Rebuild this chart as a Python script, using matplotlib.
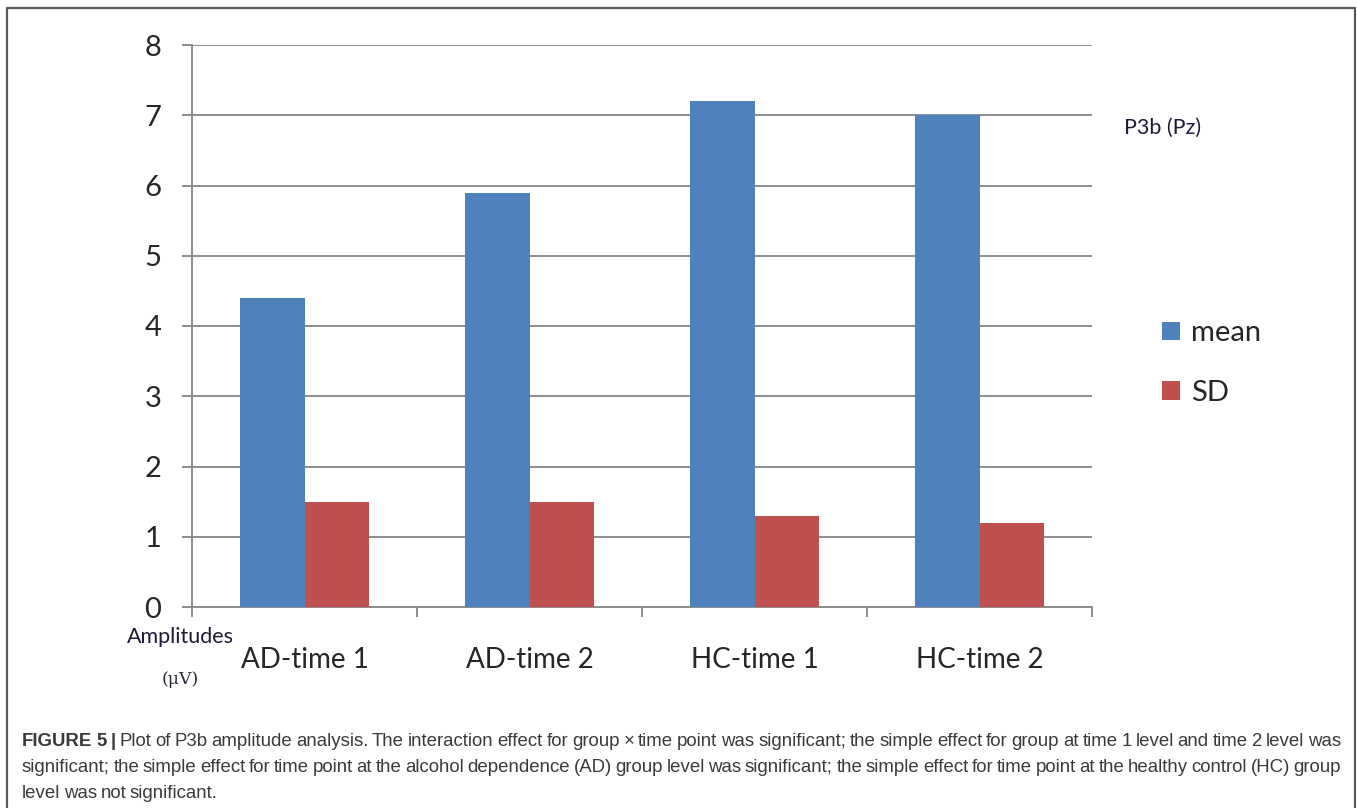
import numpy as np
import matplotlib as mpl
mpl.use('Agg')
import matplotlib.pyplot as plt
from matplotlib.lines import Line2D

# P3b (Pz) amplitudes, uV
groups = ['AD-time 1', 'AD-time 2', 'HC-time 1', 'HC-time 2']
v_mean = [4.4, 5.9, 7.2, 7.0]
v_sd   = [1.5, 1.5, 1.3, 1.2]

clr_mean = '#4F81BD'
clr_sd   = '#C0504D'
clr_grid = '#8C8C8C'
clr_txt  = '#262626'

cap_lines = [
    'FIGURE 5 | Plot of P3b amplitude analysis. The interaction effect for group \u00d7 time point was significant; '
    'the simple effect for group at time 1 level and time 2 level was',
    'significant; the simple effect for time point at the alcohol dependence (AD) group level was significant; '
    'the simple effect for time point at the healthy control (HC) group',
    'level was not significant.',
]
n_bold = 3  # "FIGURE 5 |"

W, H, rDPI = 1357, 808, 100
fig = plt.figure(figsize=(W/rDPI, H/rDPI), dpi=rDPI, facecolor='w')

def px(x, y):
    # pixel (from top-left) -> figure fraction
    return x/W, 1. - y/H

x0, y0 = px(192, 607)
x1, y1 = px(1092, 45)
ax = fig.add_axes([x0, y0, x1-x0, y1-y0])

xc = np.arange(len(groups))
wb = 1./3.5
ax.bar(xc - wb/2, v_mean, width=wb, color=clr_mean, label='mean', zorder=3)
ax.bar(xc + wb/2, v_sd,   width=wb, color=clr_sd,   label='SD',   zorder=3)

ax.set_xlim(-0.5, len(groups)-0.5)
ax.set_ylim(0, 8)
ax.set_yticks(np.arange(0, 9, 1))
ax.yaxis.grid(True, color=clr_grid, lw=1.4, zorder=0)
ax.set_axisbelow(True)

for s in ['top', 'right']:
    ax.spines[s].set_visible(False)
for s in ['left', 'bottom']:
    ax.spines[s].set_color(clr_grid)
    ax.spines[s].set_linewidth(1.4)

# category ticks at the boundaries, labels centred on groups
ax.set_xticks(np.arange(-0.5, len(groups), 1.0))
ax.set_xticklabels([])
ax.set_xticks(xc, minor=True)
ax.set_xticklabels(groups, minor=True, fontname='Lato', fontsize=20, color=clr_txt)
ax.tick_params(axis='x', which='major', length=7, width=1.4, color=clr_grid, direction='out')
ax.tick_params(axis='x', which='minor', length=0, pad=29)
ax.tick_params(axis='y', length=7, width=1.4, color=clr_grid, pad=15,
               labelsize=21, labelcolor=clr_txt)
for t in ax.get_yticklabels():
    t.set_fontname('Lato')

# axis annotations
fig.text(*px(180, 637), 'Amplitudes', fontname='Lato', fontsize=15.5, color='#1c1c3a',
         ha='center', va='center')
fig.text(*px(180, 680), '(\u03bcV)', family='DejaVu Serif', fontsize=12.5, color='#2a2a3a',
         ha='center', va='center')
fig.text(*px(1124, 128), 'P3b (Pz)', fontname='Lato', fontsize=15.5, color='#1c1c3a',
         ha='left', va='center')

leg = ax.legend(loc='upper left', bbox_to_anchor=px(1136, 294), bbox_transform=fig.transFigure,
                frameon=False, handlelength=0.6, handleheight=0.6, handletextpad=0.4,
                labelspacing=1.15, prop={'family': 'Lato', 'size': 21})
for t in leg.get_texts():
    t.set_color(clr_txt)

# outer frame (open at the bottom)
fx0, fy0 = px(7, 808)
fx1, fy1 = px(1355, 8)
frm = dict(color='#5a5a5a', lw=1.6, transform=fig.transFigure)
fig.add_artist(Line2D([fx0, fx0, fx1, fx1], [fy0, fy1, fy1, fy0], **frm))

# caption, justified word by word
rend = fig.canvas.get_renderer()
cap_x0, cap_x1 = 22, 1341
cap_y = [742, 768, 793]
gap = 4.
for jl, line in enumerate(cap_lines):
    words = line.split(' ')
    txts = []
    for jw, ww in enumerate(words):
        bold = (jl == 0 and jw < n_bold)
        t = fig.text(0, 0, ww, family='Liberation Sans', fontsize=13.4,
                     weight='bold' if bold else 'normal', color='#3a3a3a', va='center')
        txts.append(t)
    wdt = [t.get_window_extent(rend).width for t in txts]
    if jl < len(cap_lines)-1:
        gap = (cap_x1 - cap_x0 - sum(wdt)) / (len(words)-1)
    # last line keeps the spacing of the line above
    xx = cap_x0
    for t, w in zip(txts, wdt):
        t.set_position(px(xx, cap_y[jl]))
        xx += w + gap

plt.savefig('out.png', dpi=rDPI)
plt.close(fig)
